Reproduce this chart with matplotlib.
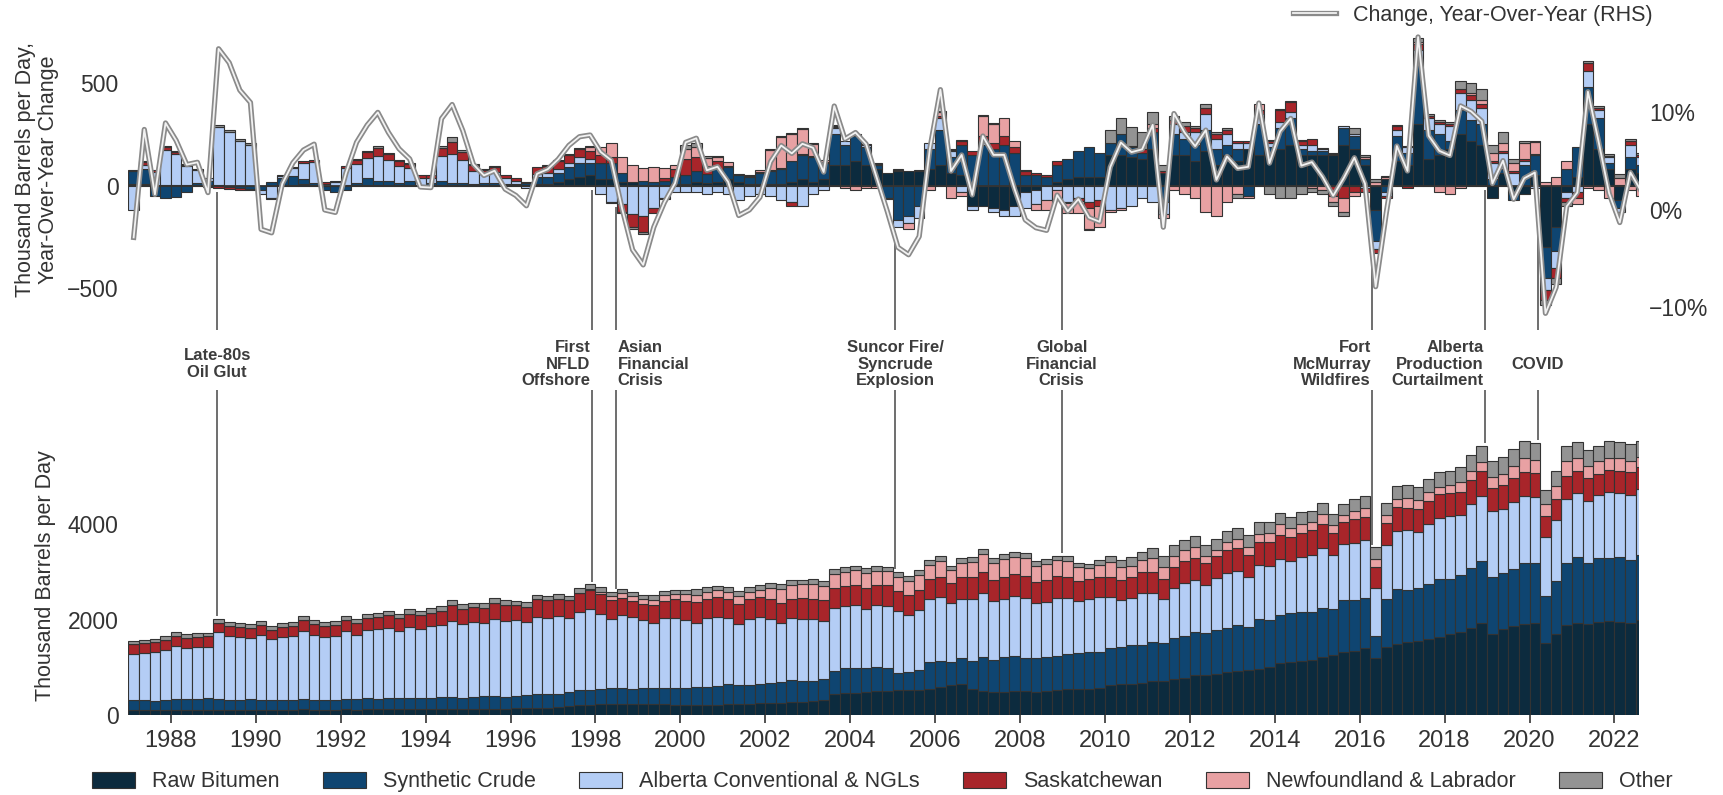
import numpy as np
import matplotlib
matplotlib.use("Agg")
import matplotlib.pyplot as plt
import matplotlib.patheffects as pe
from matplotlib.transforms import blended_transform_factory

plt.rcParams['font.family'] = ['Liberation Sans', 'DejaVu Sans']

# quarterly data, first quarter = 1987 Q1, last = 2022 Q3 (July only)
FIRST_YEAR = 1987.0
LAST_X = 2022.58

SERIES = ["Raw Bitumen", "Synthetic Crude", "Alberta Conventional & NGLs",
          "Saskatchewan", "Newfoundland & Labrador", "Other"]
COLORS = ["#0c2b3e", "#0f4571", "#b4cdf5", "#a8252a", "#e8a1a3", "#939393"]
EDGE = "#333333"
TEXT = "#333333"

# production levels, thousand barrels per day
level_raw = [
    100, 100, 105, 105, 105, 105, 110, 110, 110, 105, 110, 110,
    110, 110, 115, 115, 120, 115, 115, 115, 120, 115, 120, 120,
    120, 120, 125, 125, 125, 125, 130, 130, 130, 130, 135, 135,
    140, 140, 145, 150, 170, 180, 200, 210, 225, 230, 230, 235,
    230, 225, 225, 220, 215, 210, 215, 220, 240, 235, 240, 245,
    255, 260, 275, 280, 300, 320, 430, 460, 470, 480, 500, 510,
    530, 530, 530, 540, 580, 620, 640, 540, 500, 480, 480, 500,
    500, 490, 500, 520, 540, 540, 550, 560, 620, 640, 660, 680,
    720, 720, 760, 780, 830, 840, 860, 900, 930, 940, 970, 1000,
    1080, 1110, 1130, 1160, 1220, 1250, 1310, 1340, 1400, 1200, 1420, 1480,
    1520, 1560, 1600, 1640, 1700, 1740, 1820, 1920, 1700, 1800, 1860, 1900,
    1920, 1500, 1700, 1880, 1920, 1900, 1950, 1960, 1950, 1920, 2000,
]
level_syn = [
    210, 215, 190, 200, 240, 230, 220, 240, 230, 220, 215, 220,
    200, 210, 200, 210, 220, 210, 190, 200, 210, 220, 230, 225,
    230, 230, 240, 225, 240, 250, 250, 235, 245, 260, 260, 250,
    250, 270, 290, 280, 280, 300, 320, 320, 330, 330, 330, 320,
    330, 340, 340, 350, 360, 370, 380, 390, 400, 390, 395, 400,
    420, 440, 460, 440, 420, 440, 500, 520, 520, 510, 500, 480,
    350, 380, 420, 560, 560, 500, 560, 600, 720, 680, 740, 740,
    700, 700, 720, 720, 740, 760, 780, 760, 790, 780, 800, 790,
    800, 780, 850, 880, 900, 880, 920, 930, 950, 900, 1040, 980,
    1020, 1030, 1030, 1000, 1030, 960, 1090, 1060, 1060, 450, 1000, 1150,
    1100, 1100, 1150, 1200, 1150, 1200, 1250, 1300, 1180, 1180, 1200, 1280,
    1260, 1000, 1100, 1300, 1380, 1280, 1330, 1320, 1350, 1320, 1350,
]
level_alb = [
    970, 980, 1020, 1060, 1110, 1060, 1090, 1080, 1390, 1330, 1300, 1290,
    1370, 1270, 1310, 1330, 1430, 1360, 1330, 1340, 1420, 1350, 1430, 1450,
    1470, 1420, 1480, 1460, 1500, 1520, 1590, 1550, 1570, 1540, 1620, 1590,
    1590, 1530, 1620, 1610, 1620, 1560, 1630, 1680, 1570, 1460, 1530, 1500,
    1440, 1370, 1460, 1470, 1420, 1350, 1430, 1440, 1390, 1290, 1380, 1400,
    1340, 1230, 1300, 1300, 1300, 1210, 1320, 1300, 1320, 1240, 1300, 1300,
    1290, 1190, 1250, 1320, 1330, 1230, 1240, 1300, 1330, 1220, 1210, 1250,
    1250, 1150, 1150, 1220, 1170, 1080, 1090, 1150, 1060, 980, 1000, 1080,
    1040, 930, 1040, 1100, 1100, 1010, 1080, 1140, 1130, 1050, 1130, 1150,
    1160, 1090, 1150, 1190, 1250, 1150, 1180, 1210, 1200, 1000, 1140, 1220,
    1250, 1180, 1260, 1280, 1310, 1250, 1350, 1370, 1390, 1330, 1400, 1400,
    1390, 1220, 1280, 1350, 1360, 1310, 1320, 1390, 1350, 1370, 1380,
]
level_sask = [
    200, 210, 215, 210, 200, 215, 220, 215, 200, 205, 210, 210,
    205, 200, 215, 215, 220, 215, 225, 220, 230, 235, 255, 260,
    265, 260, 275, 275, 280, 290, 330, 310, 310, 315, 340, 325,
    320, 320, 365, 360, 360, 360, 400, 400, 400, 390, 360, 340,
    330, 360, 370, 380, 400, 430, 410, 420, 410, 420, 420, 420,
    420, 420, 400, 425, 420, 430, 410, 430, 420, 430, 420, 430,
    420, 420, 420, 430, 430, 420, 440, 450, 450, 440, 460, 460,
    460, 450, 460, 460, 440, 430, 420, 430, 430, 420, 420, 440,
    440, 420, 450, 470, 460, 450, 470, 490, 480, 460, 490, 500,
    520, 500, 510, 520, 510, 460, 460, 490, 480, 440, 470, 500,
    470, 480, 480, 500, 480, 490, 500, 510, 490, 500, 500, 510,
    500, 440, 440, 480, 460, 470, 450, 470, 460, 480, 460,
]
level_nl = [
    0, 0, 0, 0, 0, 0, 0, 0, 0, 0, 0, 0,
    0, 0, 0, 0, 0, 0, 0, 0, 0, 0, 0, 0,
    0, 0, 0, 0, 0, 0, 0, 0, 0, 0, 0, 0,
    0, 0, 0, 0, 0, 0, 0, 20, 50, 80, 100, 90,
    90, 120, 120, 110, 130, 160, 150, 140, 140, 160, 150, 150,
    230, 290, 290, 290, 300, 310, 300, 290, 300, 320, 300, 290,
    310, 290, 320, 300, 320, 260, 300, 320, 380, 360, 380, 360,
    380, 340, 340, 320, 330, 280, 230, 240, 300, 270, 250, 250,
    290, 260, 240, 220, 230, 150, 120, 160, 200, 170, 170, 180,
    210, 180, 190, 180, 190, 160, 140, 170, 190, 180, 160, 170,
    200, 190, 180, 160, 170, 190, 200, 200, 220, 240, 260, 290,
    280, 260, 280, 300, 260, 250, 260, 250, 280, 240, 220,
]
level_oth = [
    70, 70, 70, 75, 75, 80, 80, 75, 80, 85, 85, 85,
    85, 80, 80, 85, 85, 80, 80, 85, 85, 85, 90, 90,
    90, 90, 95, 90, 90, 95, 110, 100, 95, 100, 105, 100,
    95, 100, 100, 100, 100, 100, 100, 105, 100, 95, 95, 95,
    90, 90, 90, 95, 100, 110, 105, 100, 100, 105, 100, 100,
    100, 105, 105, 100, 100, 100, 105, 100, 100, 100, 100, 100,
    100, 95, 95, 100, 105, 100, 100, 100, 100, 100, 100, 100,
    100, 95, 100, 100, 100, 95, 95, 100, 130, 160, 180, 180,
    200, 210, 220, 220, 230, 240, 240, 230, 230, 260, 250, 230,
    240, 230, 250, 230, 230, 220, 240, 260, 260, 240, 260, 280,
    280, 270, 280, 300, 300, 320, 330, 340, 330, 360, 350, 350,
    340, 300, 300, 330, 330, 340, 320, 340, 330, 350, 330,
]

# year-over-year change, thousand barrels per day
yoy_raw = [
    10, 10, 5, 5, 5, 5, 5, 5, 5, 0, 0, 0,
    0, 0, 5, 5, 10, 5, 0, 0, 5, 5, 5, 5,
    5, 5, 5, 5, 5, 5, 5, 5, 5, 5, 5, 5,
    5, 5, 10, 10, 20, 30, 40, 50, 30, 30, 20, 20,
    5, 0, 5, 10, 10, 20, 15, 20, 30, 20, 10, 10,
    10, 10, 20, 30, 20, 30, 100, 100, 120, 100, 80, 60,
    70, 70, 70, 80, 100, 60, 50, -100, -100, -110, -120, -100,
    -30, -20, 0, 20, 30, 40, 40, 40, 150, 150, 140, 130,
    180, 60, 150, 150, 120, 170, 100, 150, 120, 180, 150, 150,
    180, 200, 150, 150, 150, 150, 200, 180, 100, -120, 30, 120,
    100, 300, 130, 150, 180, 250, 220, 200, -60, 60, -30, -40,
    50, -300, -200, -30, 40, 300, 180, 80, -70, 80, 60,
]
yoy_syn = [
    60, 70, -50, -60, -55, -30, 10, 20, 0, -5, -10, -15,
    -20, 20, 30, 40, 20, 10, -20, -30, -20, 10, 30, 20,
    20, 10, 20, 0, 10, 20, 10, 10, 5, 10, 10, 5,
    5, 10, 30, 30, 40, 60, 70, 60, 80, 80, 40, 0,
    20, 20, 20, 30, 40, 50, 40, 60, 60, 30, 30, 50,
    60, 70, 100, 120, 120, 80, 150, 100, 120, 90, 20, -60,
    -170, -150, -100, 100, 170, 80, 150, 150, 200, 180, 200, 160,
    50, 50, 40, 80, 100, 130, 150, 120, 60, 100, 50, 30,
    80, -80, 100, 80, 80, 100, 80, 50, 60, -50, 150, 40,
    100, 130, 30, 20, 20, 5, 80, 60, 30, -150, -30, 120,
    60, 300, 140, 100, 40, 120, 100, 100, 30, 20, -40, 100,
    100, -150, -120, 80, 150, 180, 150, 30, -40, 60, 40,
]
yoy_alb = [
    -120, 20, 60, 170, 150, 90, 60, 10, 280, 260, 220, 200,
    -20, -60, 10, 40, 80, 100, 10, 20, 80, 90, 100, 120,
    100, 80, 60, 30, 20, 120, 140, 110, 60, 40, 50, 25,
    15, -10, 15, 20, 20, 20, 30, 20, -40, -80, -90, -140,
    -150, -110, -60, -30, -30, -30, -40, -30, -40, -70, -50, -40,
    -50, -70, -80, -100, -40, -20, 30, 20, 10, 10, 5, 0,
    -30, -30, -60, 30, 60, 30, -30, -20, 10, -20, -30, -50,
    -80, -70, -70, -20, -80, -60, -80, -70, -120, -110, -100, -60,
    -80, -60, 50, 30, 60, 80, 50, 50, 30, 30, 50, 20,
    30, 30, 20, 30, 10, 5, 10, 10, -10, -40, -20, 30,
    30, 60, 60, 50, 70, 80, 100, 80, 80, 80, 60, 20,
    -10, -60, -80, -30, -30, 80, 40, 30, -20, 60, 40,
]
yoy_sask = [
    5, 15, 10, 15, 10, 5, 5, 0, -10, -10, -10, -5,
    0, -5, 5, 5, 10, 10, 10, 5, 10, 20, 30, 40,
    30, 25, 20, 15, 15, 40, 60, 40, 30, 20, 25, 15,
    10, 5, 35, 35, 40, 40, 40, 40, 40, 30, -40, -60,
    -75, -25, 10, 40, 80, 70, 40, 40, 5, 0, 5, 5,
    5, 5, -20, 5, 5, 5, 5, 0, 0, 5, 5, 0,
    5, 0, 0, 0, 10, 5, 20, 20, 30, 30, 40, 30,
    20, 10, 10, 20, -5, -15, -30, -30, 0, 0, 5, 20,
    20, 10, 20, 30, 20, 30, 20, 20, 10, 10, 20, 10,
    60, 50, 20, 30, 5, -50, -60, -30, -20, -20, -10, 20,
    -10, 30, 10, 10, 10, 20, 20, 20, 10, 10, 10, 10,
    5, -50, -50, -20, -30, 40, 10, 5, 5, 20, 10,
]
yoy_nl = [
    0, 0, 0, 0, 0, 0, 0, 0, 0, 0, 0, 0,
    0, 0, 0, 0, 0, 0, 0, 0, 0, 0, 0, 0,
    0, 0, 0, 0, 0, 0, 0, 0, 0, 0, 0, 0,
    0, 0, 0, 0, 0, 0, 0, 20, 40, 70, 80, 80,
    60, 70, 50, 20, 50, 50, 40, 20, 20, 5, 5, 10,
    100, 150, 130, 120, 60, 10, 5, -10, -20, -10, -10, -5,
    5, -30, 5, -20, 20, -60, -20, 0, 100, 90, 90, 30,
    5, -30, -50, -50, -50, -60, -100, -100, -10, -10, 0, 0,
    20, -20, -20, -40, -60, -130, -150, -80, -40, -10, 30, 5,
    5, 5, 5, -10, -20, -30, -70, -20, 10, 20, 10, 5,
    0, 10, 0, -30, -40, -10, 10, 20, 40, 40, 40, 80,
    60, 20, 40, 40, -30, -10, -20, -60, 30, -20, -50,
]
yoy_oth = [
    0, 5, 0, 5, 5, 5, 0, -5, 10, 10, 10, 10,
    0, 0, 0, 0, 0, 0, 0, 0, 0, 5, 5, 10,
    5, 5, 5, 0, 0, 10, 20, 10, 5, 5, 5, 0,
    0, 0, 0, 5, 5, 5, 5, 5, 0, -5, -5, -10,
    -10, 0, -5, 0, 20, 20, 10, 5, 0, 0, 0, 0,
    5, 5, 5, 5, 5, 0, 5, 0, 0, 0, 0, 0,
    0, 0, 0, 0, 5, 5, 5, 0, 5, 5, 0, 0,
    0, 0, 0, 0, 0, 0, -5, 0, 60, 80, 90, 80,
    60, 30, 20, 20, 10, 20, 10, 10, -20, 0, 0, -40,
    -60, -60, -40, -20, -20, -20, -20, 30, 10, 10, 5, 0,
    5, 20, 10, 10, 10, 40, 50, 50, 40, 50, 20, 10,
    5, -20, -30, -20, 0, 10, 10, 10, 20, 10, 10,
]

events = [1989.09, 1997.92, 1998.49, 2005.06, 2008.98, 2016.30, 2018.96, 2020.20]
event_labels = ["Late-80s\nOil Glut", "First\nNFLD\nOffshore", "Asian\nFinancial\nCrisis",
                "Suncor Fire/\nSyncrude\nExplosion", "Global\nFinancial\nCrisis",
                "Fort\nMcMurray\nWildfires", "Alberta\nProduction\nCurtailment", "COVID"]
event_align = ["center", "right", "left", "center", "center", "right", "right", "center"]

levels = np.array([level_raw, level_syn, level_alb, level_sask, level_nl, level_oth], float)
changes = np.array([yoy_raw, yoy_syn, yoy_alb, yoy_sask, yoy_nl, yoy_oth], float)
x = FIRST_YEAR + 0.25 * np.arange(levels.shape[1])
total = levels.sum(axis=0)
yoy_total = changes.sum(axis=0)
yoy_pct = yoy_total / (total - yoy_total) * 100

TOP_LIM = (-704, 760)
RHS_LIM = (-12.31, 18.46)
BOT_LIM = (0, 6806)

fig = plt.figure(figsize=(17.23, 7.95), dpi=100)
ax_top = fig.add_axes([0.0745, 0.585, 0.8768, 0.3774])
ax_bot = fig.add_axes([0.0745, 0.1006, 0.8768, 0.4088])
ax_rhs = ax_top.twinx()

bar_kw = dict(width=0.25, align="edge", edgecolor=EDGE, linewidth=0.8)

# top: stacked year-over-year change, positives up and negatives down
pos_base = np.zeros_like(x)
neg_base = np.zeros_like(x)
for vals, color in zip(changes, COLORS):
    pos = np.where(vals > 0, vals, 0)
    neg = np.where(vals < 0, vals, 0)
    m = pos != 0
    ax_top.bar(x[m], pos[m], bottom=pos_base[m], color=color, **bar_kw)
    m = neg != 0
    ax_top.bar(x[m], neg[m], bottom=neg_base[m], color=color, **bar_kw)
    pos_base += pos
    neg_base += neg
ax_top.axhline(0, color=EDGE, linewidth=1.3, zorder=1)

line, = ax_rhs.plot(x + 0.125, yoy_pct, color="#f2f2f2", linewidth=1.3,
                    path_effects=[pe.Stroke(linewidth=3.8, foreground="#8a8a8a"), pe.Normal()],
                    label="Change, Year-Over-Year (RHS)")

# bottom: stacked production levels
base = np.zeros_like(x)
handles = []
for vals, color, name in zip(levels, COLORS, SERIES):
    bars = ax_bot.bar(x, vals, bottom=base, color=color, label=name, **bar_kw)
    handles.append(bars)
    base += vals

for ax in (ax_top, ax_bot, ax_rhs):
    for s in ax.spines.values():
        s.set_visible(False)
    ax.set_xlim(FIRST_YEAR, LAST_X)
    ax.tick_params(axis="y", length=0, pad=7, labelsize=16.5, labelcolor=TEXT)

ax_top.set_ylim(*TOP_LIM)
ax_top.set_yticks([-500, 0, 500])
ax_top.tick_params(axis="x", bottom=False, labelbottom=False)
ax_rhs.set_ylim(*RHS_LIM)
ax_rhs.set_yticks([-10, 0, 10])
ax_rhs.set_yticklabels(["\u221210%", "0%", "10%"])

ax_bot.set_ylim(*BOT_LIM)
ax_bot.set_yticks([0, 2000, 4000])
ax_bot.set_xticks(np.arange(1988, 2023, 2))
ax_bot.tick_params(axis="x", length=6, width=1.2, color=TEXT, pad=5,
                   labelsize=17, labelcolor=TEXT)

fig.text(0.0215, 0.787, "Thousand Barrels per Day,\nYear-Over-Year Change", rotation=90,
         ha="center", va="center", multialignment="center", fontsize=15.5, color=TEXT,
         linespacing=1.15)
fig.text(0.0265, 0.276, "Thousand Barrels per Day", rotation=90,
         ha="center", va="center", fontsize=15.5, color=TEXT)

# event markers
trans = blended_transform_factory(ax_bot.transData, fig.transFigure)
for date, label, ha in zip(events, event_labels, event_align):
    i = int((date - FIRST_YEAR) / 0.25)
    ax_top.vlines(date, TOP_LIM[0], min(neg_base[i], 0) - 20, color="#555555",
                  linewidth=1.2, zorder=4)
    ax_bot.vlines(date, total[i] + 60, BOT_LIM[1], color="#555555", linewidth=1.2,
                  zorder=4)
    dx = {"center": 0, "right": -1, "left": 1}[ha]
    ax_bot.annotate(label, xy=(date, 0.5421), xycoords=trans, xytext=(dx, 0),
                    textcoords="offset points", ha=ha, va="center", multialignment=ha,
                    fontsize=12, fontweight="bold", color="#3c3c3c", linespacing=1.1,
                    annotation_clip=False)

fig.legend(handles=handles, loc="center", bbox_to_anchor=(0.512, 0.0164), ncol=6,
           frameon=False, fontsize=15.5, handlelength=2.0, handleheight=0.75,
           handletextpad=0.8, columnspacing=2.0, labelcolor=TEXT)
fig.legend(handles=[line], loc="center", bbox_to_anchor=(0.855, 0.981), frameon=False,
           fontsize=15.5, handlelength=2.0, handletextpad=0.8, labelcolor=TEXT)

fig.savefig("out.png", dpi=100)
